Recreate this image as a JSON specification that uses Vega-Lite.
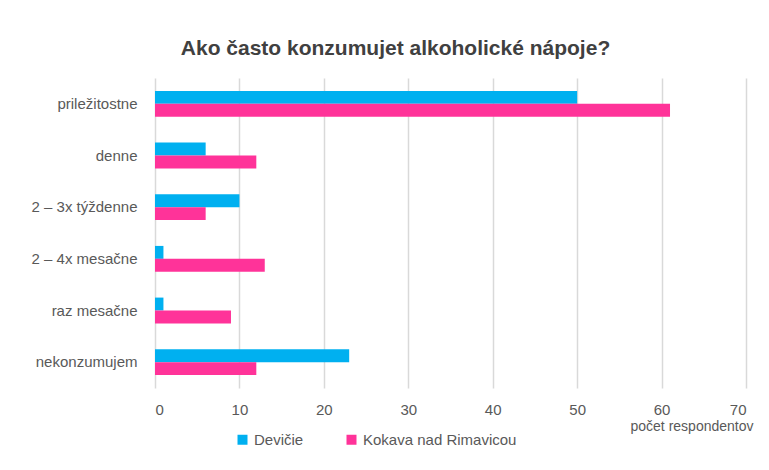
{
  "$schema": "https://vega.github.io/schema/vega-lite/v6.json",
  "autosize": {"type": "none"},
  "padding": {"left": 155, "top": 78, "right": 23, "bottom": 82},
  "width": 591,
  "height": 310,
  "background": "white",
  "title": {
    "text": "Ako často konzumujet alkoholické nápoje?",
    "font": "Liberation Sans, sans-serif",
    "fontSize": 21,
    "fontWeight": "bold",
    "color": "#404040",
    "anchor": "middle",
    "dx": -55,
    "offset": 19
  },
  "data": {
    "values": [
      {"kategoria": "priležitostne", "obec": "Devičie", "pocet": 50},
      {"kategoria": "priležitostne", "obec": "Kokava nad Rimavicou", "pocet": 61},
      {"kategoria": "denne", "obec": "Devičie", "pocet": 6},
      {"kategoria": "denne", "obec": "Kokava nad Rimavicou", "pocet": 12},
      {"kategoria": "2 – 3x týždenne", "obec": "Devičie", "pocet": 10},
      {"kategoria": "2 – 3x týždenne", "obec": "Kokava nad Rimavicou", "pocet": 6},
      {"kategoria": "2 – 4x mesačne", "obec": "Devičie", "pocet": 1},
      {"kategoria": "2 – 4x mesačne", "obec": "Kokava nad Rimavicou", "pocet": 13},
      {"kategoria": "raz mesačne", "obec": "Devičie", "pocet": 1},
      {"kategoria": "raz mesačne", "obec": "Kokava nad Rimavicou", "pocet": 9},
      {"kategoria": "nekonzumujem", "obec": "Devičie", "pocet": 23},
      {"kategoria": "nekonzumujem", "obec": "Kokava nad Rimavicou", "pocet": 12}
    ]
  },
  "mark": {"type": "bar"},
  "encoding": {
    "y": {
      "field": "kategoria",
      "type": "nominal",
      "sort": ["priležitostne", "denne", "2 – 3x týždenne", "2 – 4x mesačne", "raz mesačne", "nekonzumujem"],
      "scale": {"paddingInner": 0.5, "paddingOuter": 0.25},
      "axis": {
        "title": null,
        "ticks": false,
        "domain": false,
        "grid": false,
        "labelPadding": 18,
        "labelFontSize": 15,
        "labelColor": "#595959",
        "labelFont": "Liberation Sans, sans-serif"
      }
    },
    "yOffset": {
      "field": "obec",
      "type": "nominal",
      "sort": ["Devičie", "Kokava nad Rimavicou"]
    },
    "x": {
      "field": "pocet",
      "type": "quantitative",
      "scale": {"domain": [0, 70], "nice": false},
      "axis": {
        "values": [0, 10, 20, 30, 40, 50, 60, 70],
        "title": "počet respondentov",
        "titleAnchor": "end",
        "titleFontWeight": "normal",
        "titleFontSize": 14,
        "titleColor": "#595959",
        "titleFont": "Liberation Sans, sans-serif",
        "titlePadding": 2,
        "titleX": 598,
        "ticks": false,
        "domain": false,
        "grid": true,
        "gridColor": "#d9d9d9",
        "gridWidth": 1.5,
        "labelPadding": 14,
        "labelFontSize": 15,
        "labelColor": "#595959",
        "labelFont": "Liberation Sans, sans-serif"
      }
    },
    "color": {
      "field": "obec",
      "type": "nominal",
      "sort": ["Devičie", "Kokava nad Rimavicou"],
      "scale": {"domain": ["Devičie", "Kokava nad Rimavicou"], "range": ["#00B0F0", "#FF3399"]},
      "legend": {
        "title": null,
        "orient": "none",
        "direction": "horizontal",
        "legendX": 80,
        "legendY": 354,
        "symbolType": "square",
        "symbolSize": 100,
        "symbolStrokeWidth": 0,
        "labelFontSize": 15,
        "labelLimit": 400,
        "labelColor": "#595959",
        "labelFont": "Liberation Sans, sans-serif",
        "columnPadding": 40,
        "labelOffset": 4
      }
    }
  },
  "config": {"view": {"stroke": null}}
}
